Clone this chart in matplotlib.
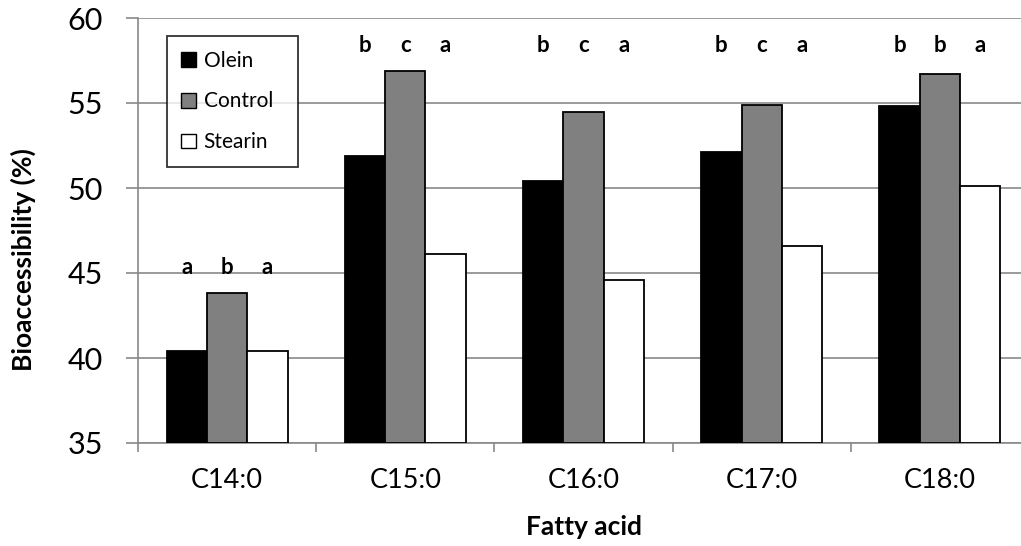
import matplotlib
matplotlib.use("Agg")
import matplotlib.pyplot as plt
from matplotlib.patches import Patch
import numpy as np

categories = ["C14:0", "C15:0", "C16:0", "C17:0", "C18:0"]
olein = [40.4, 51.9, 50.4, 52.1, 54.8]
control = [43.8, 56.9, 54.5, 54.9, 56.7]
stearin = [40.4, 46.1, 44.6, 46.6, 50.1]
letters_olein = ["a", "b", "b", "b", "b"]
letters_control = ["b", "c", "c", "c", "b"]
letters_stearin = ["a", "a", "a", "a", "a"]
letter_y = [44.95, 58.0, 58.0, 58.0, 58.0]
series_names = ["Olein", "Control", "Stearin"]
yticks = [35, 40, 45, 50, 55, 60]

plt.rcParams['font.family'] = ['Lato', 'DejaVu Sans']

fig = plt.figure(figsize=(10.21, 5.46), dpi=100)
W, H = 1021, 546
left_px, right_px, top_px, bot_px = 138, 1029, 18, 443
ax = fig.add_axes([left_px / W, (H - bot_px) / H, (right_px - left_px) / W, (bot_px - top_px) / H])

x = np.arange(len(categories))
bw = 0.226
grid_c = "#898989"
ax.bar(x - bw, [v - 35 for v in olein], bw, bottom=35, color="black", edgecolor="black", linewidth=1.3, zorder=3)
ax.bar(x, [v - 35 for v in control], bw, bottom=35, color="#808080", edgecolor="black", linewidth=1.3, zorder=3)
ax.bar(x + bw, [v - 35 for v in stearin], bw, bottom=35, color="white", edgecolor="black", linewidth=1.3, zorder=3)

for i in range(len(categories)):
    for dx, lab in zip((-bw, 0, bw), (letters_olein[i], letters_control[i], letters_stearin[i])):
        ax.text(x[i] + dx, letter_y[i], lab, ha="center", va="baseline", fontsize=16, fontweight="bold", zorder=4)

ax.set_xlim(-0.5, len(categories) - 0.5)
ax.set_ylim(35, 60)
ax.set_yticks(yticks)
ax.set_yticklabels([str(t) for t in yticks], fontsize=22)
ax.set_xticks(x)
ax.set_xticklabels(categories, fontsize=19.5)
ax.tick_params(axis="x", which="major", length=0, pad=18)
ax.set_xticks(np.arange(-0.5, len(categories), 1.0), minor=True)
ax.tick_params(axis="x", which="minor", length=6.7, width=1.2, color=grid_c, direction="out")
ax.tick_params(axis="y", length=8.4, width=1.2, color=grid_c, direction="out", pad=17)

ax.grid(axis="y", color=grid_c, linewidth=1.2, zorder=0)
ax.set_axisbelow(True)
for s in ("top", "right"):
    ax.spines[s].set_visible(False)
for s in ("left", "bottom"):
    ax.spines[s].set_color(grid_c)
    ax.spines[s].set_linewidth(1.2)

fig.text(23 / W, 1 - 259.7 / H, "Bioaccessibility (%)", rotation=90, ha="center", va="center",
         fontsize=19, fontweight="bold")
fig.text(583.5 / W, 1 - 527 / H, "Fatty acid", ha="center", va="center", fontsize=19, fontweight="bold")

handles = [Patch(facecolor="black", edgecolor="black"),
           Patch(facecolor="#808080", edgecolor="black"),
           Patch(facecolor="white", edgecolor="black")]
leg = ax.legend(handles, series_names, loc="upper left",
                bbox_to_anchor=(0.0322, 0.5, 0.147, 0.4576), mode="expand",
                borderaxespad=0, fontsize=15, frameon=True, fancybox=False,
                handlelength=0.72, handleheight=0.72, handletextpad=0.35,
                labelspacing=1.0, borderpad=0.7)
leg.get_frame().set_edgecolor("black")
leg.get_frame().set_linewidth(1.3)
leg.set_zorder(5)

fig.savefig("out.png", dpi=100)
